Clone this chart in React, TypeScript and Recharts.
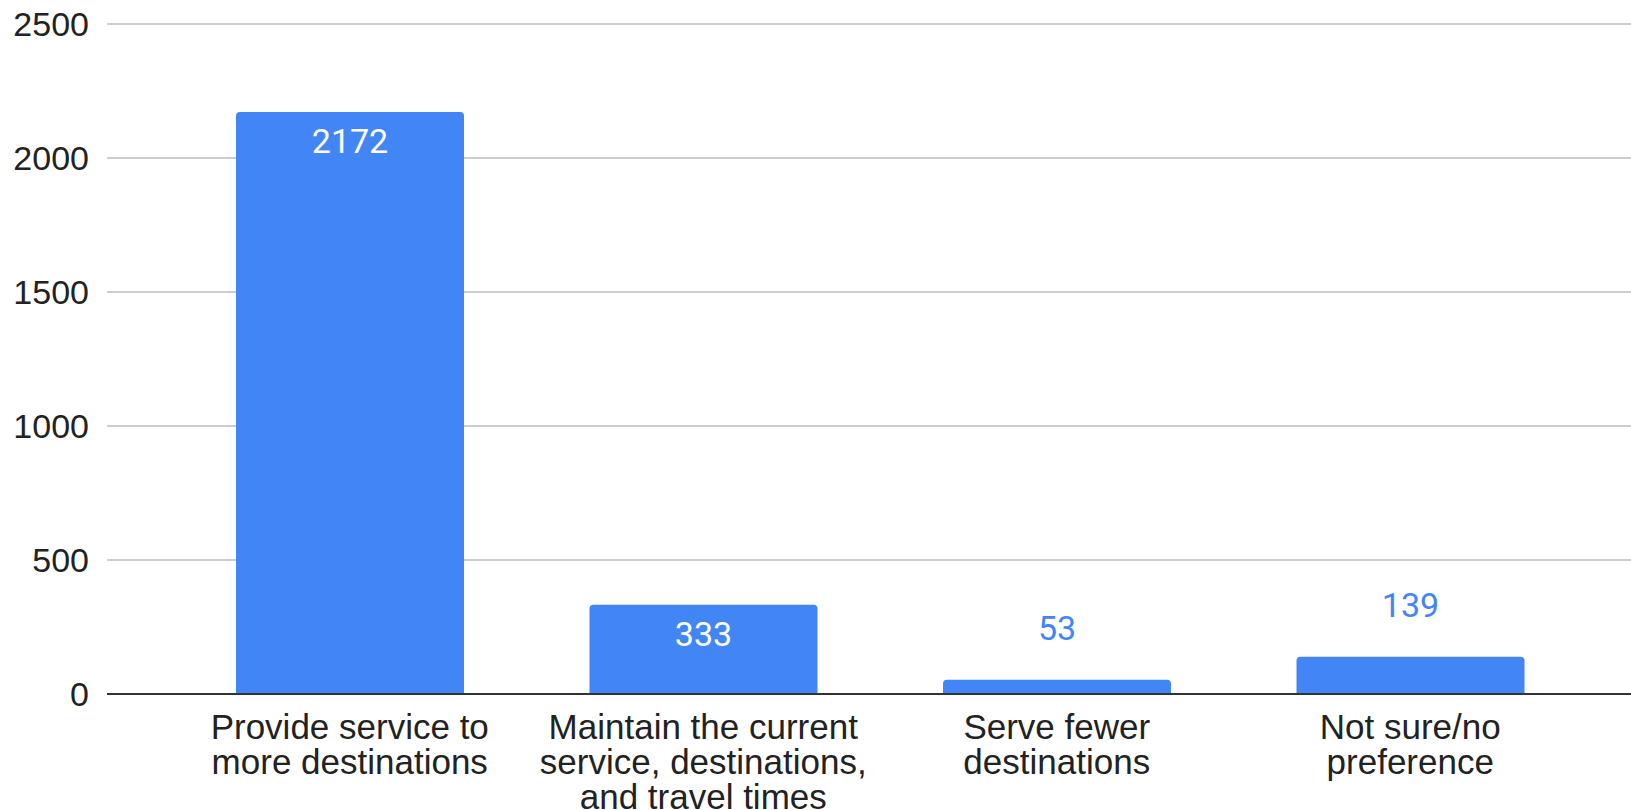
import { BarChart, Bar, XAxis, YAxis, CartesianGrid, LabelList } from 'recharts'

const categories = [
  'Provide service to more destinations',
  'Maintain the current service, destinations, and travel times',
  'Serve fewer destinations',
  'Not sure/no preference',
]

const tickLines = [
  ['Provide service to', 'more destinations'],
  ['Maintain the current', 'service, destinations,', 'and travel times'],
  ['Serve fewer', 'destinations'],
  ['Not sure/no', 'preference'],
]

const responses = [2172, 333, 53, 139]

const yTicks = [0, 500, 1000, 1500, 2000, 2500]

const BLUE = '#4285F4'
const FONT = '"Liberation Sans", Arial, sans-serif'

const data = categories.map((name, i) => ({ name, value: responses[i] }))

function CategoryTick(props: any) {
  const { x, y, payload } = props
  const lines = tickLines[categories.indexOf(payload.value)] || [payload.value]
  return (
    <text x={x} y={y} textAnchor="middle" fontFamily={FONT} fontSize={35} fill="#222">
      {lines.map((line, i) => (
        <tspan key={i} x={x} dy={i === 0 ? 37 : 35}>
          {line}
        </tspan>
      ))}
    </text>
  )
}

function ValueLabel(props: any) {
  const { x, y, width, height, value } = props
  // tall bars get the number inside, short ones above
  const inside = height > 60
  return (
    <text
      x={x + width / 2}
      y={inside ? y + 41 : y - 40}
      textAnchor="middle"
      fontFamily="Roboto, sans-serif"
      fontSize={34}
      fill={inside ? '#ffffff' : BLUE}
    >
      {value}
    </text>
  )
}

export default function App() {
  return (
    <div style={{ position: 'absolute', left: 0, top: 0, background: '#fff' }}>
      <BarChart
        width={1631}
        height={810}
        data={data}
        margin={{ top: 24, right: 0, left: 0, bottom: 0 }}
      >
        <CartesianGrid vertical={false} stroke="#cccccc" strokeWidth={2} />
        <YAxis
          type="number"
          domain={[0, 2500]}
          ticks={yTicks}
          width={107}
          axisLine={false}
          tickLine={false}
          tickMargin={12}
          tick={{ fontFamily: FONT, fontSize: 34, fill: '#222' }}
        />
        <XAxis
          dataKey="name"
          height={116}
          padding={{ left: 66, right: 44 }}
          axisLine={{ stroke: '#333', strokeWidth: 2 }}
          tickLine={false}
          interval={0}
          tick={<CategoryTick />}
        />
        <Bar
          dataKey="value"
          fill={BLUE}
          barSize={228}
          radius={[4, 4, 0, 0]}
          isAnimationActive={false}
        >
          <LabelList dataKey="value" content={<ValueLabel />} />
        </Bar>
      </BarChart>
    </div>
  )
}
